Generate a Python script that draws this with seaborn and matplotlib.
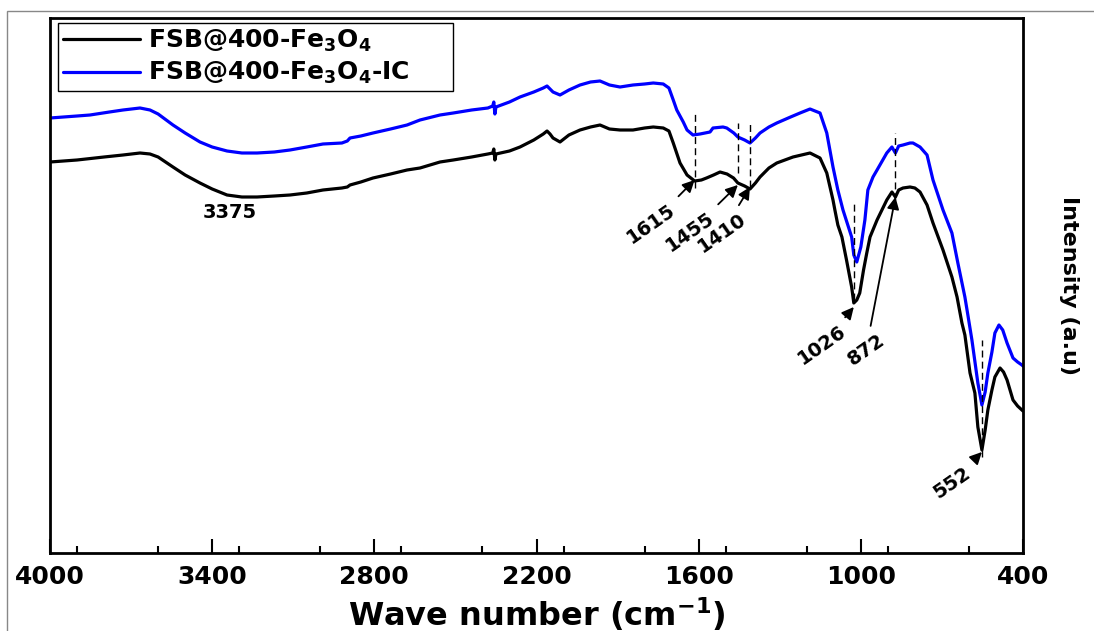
import numpy as np
import pandas as pd
import matplotlib
matplotlib.use("Agg")
import matplotlib.pyplot as plt
from matplotlib.patches import Rectangle
from matplotlib.ticker import MultipleLocator
import seaborn as sns

# ---------------- data ----------------
wn_black = [4000, 3900, 3800, 3730, 3667, 3630, 3600, 3545, 3500, 3445, 3400, 3345, 3290, 3234,
            3170, 3112, 3050, 2990, 2920, 2900, 2890, 2850, 2805, 2740, 2679, 2631, 2557, 2508,
            2440, 2380, 2362, 2358, 2354, 2350, 2300, 2261, 2210, 2175, 2161, 2150, 2139, 2113,
            2080, 2039, 2000, 1965, 1930, 1891, 1843, 1800, 1768, 1731, 1710, 1694, 1669, 1643,
            1615, 1590, 1571, 1545, 1521, 1495, 1471, 1455, 1430, 1410, 1390, 1373, 1340, 1311,
            1251, 1188, 1151, 1126, 1103, 1096, 1085, 1070, 1053, 1034, 1026, 1015, 1004, 990,
            978, 966, 940, 904, 885, 872, 860, 844, 818, 800, 781, 755, 733, 696, 663, 644, 626,
            615, 596, 578, 567, 552, 540, 530, 515, 504, 485, 472, 459, 437, 420, 404, 400]
int_black = [391, 393, 396, 398, 400, 399, 396, 386, 378, 370, 364, 358, 356, 356,
             357, 358, 360, 363, 365, 366, 368, 371, 375, 379, 383, 385, 391, 393,
             396, 399, 400, 404, 393, 399, 402, 406, 413, 419, 422, 419, 415, 411,
             418, 423, 426, 428, 424, 423, 423, 425, 426, 425, 422, 410, 390, 378,
             372, 373, 375, 378, 381, 379, 375, 370, 367, 364, 370, 376, 385, 390,
             396, 400, 395, 380, 353, 343, 328, 316, 293, 266, 250, 253, 260, 283,
             300, 316, 333, 353, 361, 356, 363, 365, 366, 365, 361, 348, 330, 303, 276, 256, 230,
             218, 180, 160, 126, 103, 123, 143, 163, 176, 185, 181, 173, 153, 147, 143, 142]

wn_blue = [4000, 3900, 3852, 3780, 3730, 3667, 3630, 3600, 3545, 3500, 3445, 3400, 3345, 3290,
           3234, 3170, 3112, 3050, 2990, 2920, 2900, 2890, 2850, 2805, 2740, 2679, 2631, 2557,
           2508, 2440, 2380, 2362, 2358, 2354, 2350, 2300, 2261, 2210, 2175, 2161, 2150, 2139,
           2113, 2080, 2039, 2000, 1965, 1930, 1891, 1843, 1800, 1768, 1731, 1710, 1694, 1681,
           1657, 1643, 1621, 1595, 1558, 1547, 1510, 1496, 1470, 1455, 1430, 1410, 1390, 1373,
           1340, 1311, 1260, 1225, 1188, 1151, 1126, 1103, 1085, 1066, 1034, 1026, 1015, 1000,
           985, 974, 955, 940, 904, 885, 872, 860, 844, 818, 807, 781, 755, 733, 696, 663, 641,
           615, 604, 589, 567, 552, 540, 530, 515, 504, 489, 475, 459, 437, 420, 404, 400]
int_blue = [435, 437, 438, 441, 443, 445, 443, 439, 428, 420, 411, 406, 402, 400,
            400, 401, 403, 406, 409, 410, 412, 415, 417, 420, 424, 428, 433, 438,
            440, 443, 445, 447, 451, 439, 446, 451, 456, 461, 465, 467, 464, 461,
            458, 463, 468, 471, 472, 468, 466, 468, 469, 470, 469, 465, 453, 443,
            431, 423, 418, 419, 421, 425, 426, 425, 420, 416, 413, 410, 415, 420,
            426, 430, 436, 440, 444, 440, 420, 386, 363, 343, 316, 298, 291, 306,
            333, 363, 376, 383, 400, 406, 400, 407, 408, 410, 410, 406, 398, 373, 343, 320, 290,
            256, 238, 213, 170, 148, 161, 180, 201, 220, 228, 223, 210, 195, 191, 188, 187]

series_names = ["FSB@400-Fe$_3$O$_4$", "FSB@400-Fe$_3$O$_4$-IC"]
series_colors = ["#000000", "#0000ff"]

# peak annotations: label, arrow-head intensity
peak_labels = [1615, 1455, 1410, 1026, 872, 552]
peak_heads = [373, 368, 366, 246, 356, 101]
# dashed guide lines: (top, bottom) intensity
guide_top = [441, 430, 430, 350, 420, 213]
guide_bottom = [365, 380, 366, 253, 353, 96]
broad_label = "3375"

x_ticks = [4000, 3400, 2800, 2200, 1600, 1000, 400]

# ---------------- figure ----------------
sns.set_style("white")
plt.rcParams["font.family"] = ["DejaVu Sans"]
plt.rcParams["font.weight"] = "bold"
plt.rcParams["text.color"] = "black"
plt.rcParams["axes.labelcolor"] = "black"
plt.rcParams["xtick.color"] = "black"
plt.rcParams["ytick.color"] = "black"
plt.rcParams["mathtext.fontset"] = "dejavusans"
plt.rcParams["mathtext.default"] = "bf"

fig = plt.figure(figsize=(10.94, 6.31), dpi=100)
ax = fig.add_axes([50 / 1094, 1 - 553 / 631, 973 / 1094, 535 / 631])

df = pd.concat([
    pd.DataFrame({"wn": wn_black, "I": int_black, "s": series_names[0]}),
    pd.DataFrame({"wn": wn_blue, "I": int_blue, "s": series_names[1]}),
])
sns.lineplot(data=df, x="wn", y="I", hue="s", palette=series_colors, estimator=None,
             sort=False, lw=2.3, ax=ax, legend=True)

ax.set_xlim(4000, 400)
ax.set_ylim(0, 535)
ax.set_xticks(x_ticks)
ax.set_xticklabels([str(t) for t in x_ticks])
ax.xaxis.set_minor_locator(MultipleLocator(300))
ax.tick_params(axis="x", which="major", direction="in", length=10, width=1.5,
               labelsize=18, pad=9, top=False, bottom=True, colors="black")
ax.tick_params(axis="x", which="minor", direction="in", length=5, width=1.5,
               top=False, bottom=True, colors="black")
ax.set_yticks([])
for lab in ax.get_xticklabels():
    lab.set_fontweight("bold")
for sp in ax.spines.values():
    sp.set_visible(True)
    sp.set_color("black")
    sp.set_linewidth(2)

ax.set_xlabel("Wave number (cm$^{-1}$)", fontsize=23, fontweight="bold", labelpad=4,
              color="black")
ax.yaxis.set_label_position("right")
ax.set_ylabel("Intensity (a.u)", fontsize=16, fontweight="bold", rotation=270,
              labelpad=40, color="black")

# dashed guide lines
ax.vlines(peak_labels, guide_bottom, guide_top, colors="black", linestyles=(0, (5, 3)),
          lw=1)

# annotations with arrows
text_pos = {1615: (1776, 329), 1455: (1632, 321), 1410: (1514, 320),
            1026: (1144, 208), 872: (981, 203), 552: (663, 70)}
for p, h in zip(peak_labels, peak_heads):
    ax.annotate(str(p), xy=(p, h), xytext=text_pos[p], textcoords="data",
                ha="center", va="center", rotation=35, fontsize=14, fontweight="bold",
                color="black",
                arrowprops=dict(arrowstyle="-|>", color="black", lw=1.3,
                                mutation_scale=18, shrinkA=1, shrinkB=0))
ax.text(3334, 340, broad_label, ha="center", va="center", fontsize=14, fontweight="bold",
        color="black")

leg = ax.legend(loc="upper left", bbox_to_anchor=(0.008, 0.86, 0.406, 0.131),
                mode="expand", borderaxespad=0,
                frameon=True, fancybox=False, edgecolor="black", framealpha=1,
                handlelength=3.1, handletextpad=0.3, labelspacing=0.25,
                borderpad=0.2, prop={"weight": "bold", "size": 18})
leg.get_frame().set_linewidth(1)
for line in leg.get_lines():
    line.set_linewidth(2.3)
for t in leg.get_texts():
    t.set_color("black")

# outer thin gray border
fig.patches.append(Rectangle((7 / 1094, -0.1), 1.2, 1 - 11 / 631 + 0.1,
                             transform=fig.transFigure, fill=False,
                             edgecolor="#888888", lw=1))

fig.savefig("out.png", dpi=100)
